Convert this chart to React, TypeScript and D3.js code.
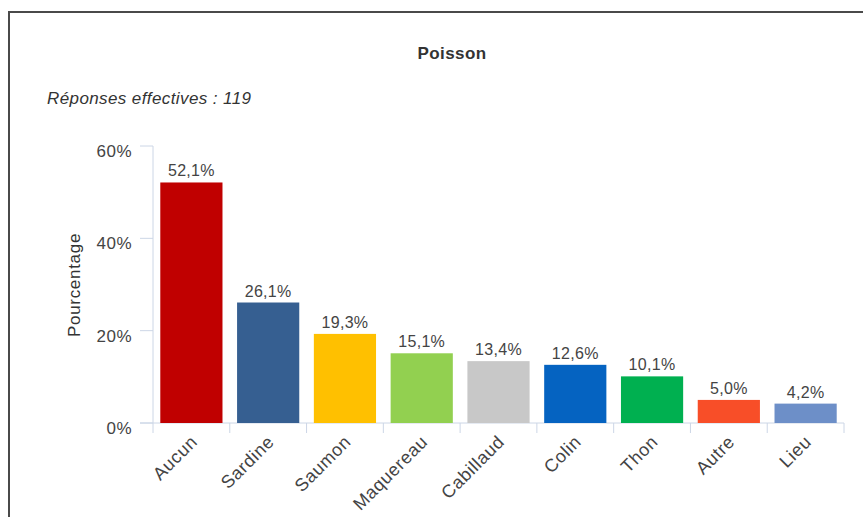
import React from "react";
import * as d3 from "d3";

const categories = ["Aucun", "Sardine", "Saumon", "Maquereau", "Cabillaud", "Colin", "Thon", "Autre", "Lieu"];
const values = [52.1, 26.1, 19.3, 15.1, 13.4, 12.6, 10.1, 5.0, 4.2];
const colors = ["#c00000", "#365f91", "#ffc000", "#92d050", "#c8c8c8", "#0563c1", "#00b050", "#f84e28", "#6d8fc8"];
const yTicks = [0, 20, 40, 60];

const W = 863;
const H = 517;

export default function App() {
  const x = d3.scaleBand<string>().domain(categories).range([153, 844]).paddingInner(0.19).paddingOuter(0.095);
  const y = d3.scaleLinear().domain([0, 60]).range([423, 146]);
  const step = x.step();
  const font = "'Liberation Sans', Arial, sans-serif";
  const fmt = (v: number) => v.toFixed(1).replace(".", ",") + "%";

  return (
    <svg width={W} height={H} style={{ position: "absolute", left: 0, top: 0, background: "#fff" }}>
      <rect x={0} y={0} width={W} height={H} fill="#fff" />
      <path d={`M9,${H} V12 H${W}`} fill="none" stroke="#4a4a4a" strokeWidth={2} />
      <text x={452} y={59} textAnchor="middle" fontFamily={font} fontSize={17} fontWeight="bold" letterSpacing={0.4} fill="#333">Poisson</text>
      <text x={47} y={104} fontFamily={font} fontSize={17} fontStyle="italic" letterSpacing={0.4} fill="#333">Réponses effectives : 119</text>
      <text transform="translate(80,285) rotate(-90)" textAnchor="middle" fontFamily={font} fontSize={17} letterSpacing={0.7} fill="#333">Pourcentage</text>
      {/* y axis */}
      <line x1={153} x2={153} y1={146} y2={433} stroke="#ccd6e6" strokeWidth={1} />
      {yTicks.map((t) => (
        <g key={t}>
          <line x1={140} x2={153} y1={y(t)} y2={y(t)} stroke="#ccd6e6" strokeWidth={1} />
          <text x={132} y={y(t) + 11} textAnchor="end" fontFamily={font} fontSize={17} letterSpacing={0.5} fill="#444">{t}%</text>
        </g>
      ))}
      {/* x axis */}
      <line x1={140} x2={844} y1={y(0)} y2={y(0)} stroke="#ccd6e6" strokeWidth={1} />
      {categories.map((c, i) => (
        <line key={"t" + c} x1={153 + (i + 1) * step} x2={153 + (i + 1) * step} y1={y(0)} y2={433} stroke="#ccd6e6" strokeWidth={1} />
      ))}
      {categories.map((c, i) => {
        const bx = x(c)!;
        const by = y(values[i]);
        const cx = bx + x.bandwidth() / 2;
        return (
          <g key={c}>
            <rect x={bx} y={by} width={x.bandwidth()} height={y(0) - by} fill={colors[i]} />
            <text x={cx} y={by - 6} textAnchor="middle" fontFamily={font} fontSize={16} letterSpacing={0.3} fill="#444">{fmt(values[i])}</text>
            <text transform={`translate(${cx + 7},${443}) rotate(-45)`} textAnchor="end" fontFamily={font} fontSize={18} letterSpacing={0.6} fill="#444">{c}</text>
          </g>
        );
      })}
    </svg>
  );
}
